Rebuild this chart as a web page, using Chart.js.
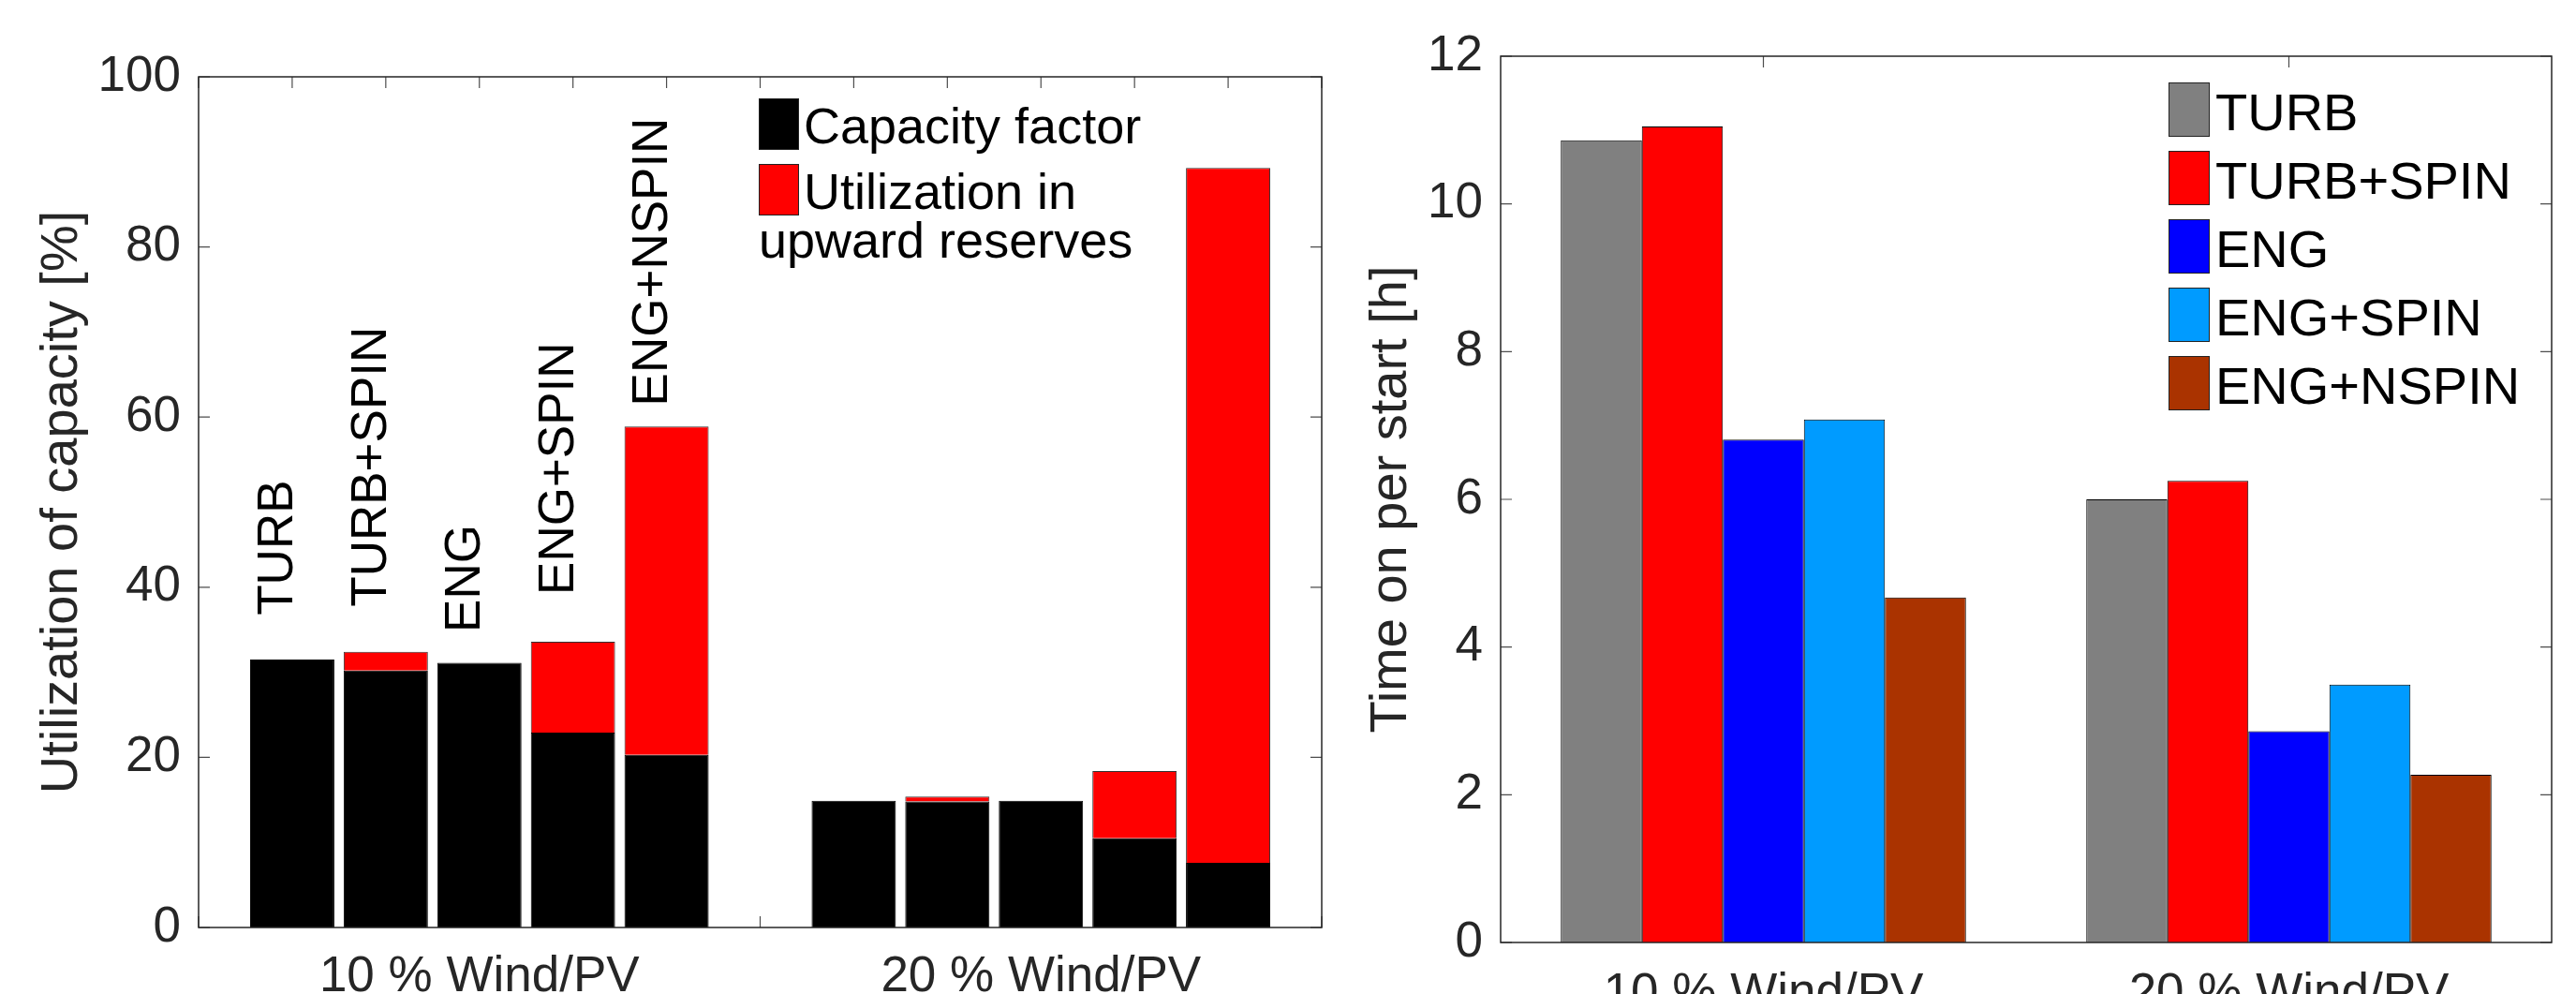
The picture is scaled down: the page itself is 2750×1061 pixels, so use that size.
<!DOCTYPE html>
<html>
<head>
<meta charset="utf-8">
<script src="https://cdn.jsdelivr.net/npm/chart.js@4.4.0/dist/chart.umd.min.js"></script>
<style>
  html, body { margin: 0; padding: 0; background: #fff; overflow: hidden; }
  canvas { position: absolute; top: 0; }
  #left { left: 0; width: 1450px; height: 1061px; }
  #right { left: 1450px; width: 1300px; height: 1061px; }
</style>
</head>
<body>
<canvas id="left" width="1450" height="1061"></canvas>
<canvas id="right" width="1300" height="1061"></canvas>
<script>
// technologies and scenarios
const techs = ['TURB', 'TURB+SPIN', 'ENG', 'ENG+SPIN', 'ENG+NSPIN'];
const scenarios = ['10 % Wind/PV', '20 % Wind/PV'];

// left panel: utilization of capacity [%]
const capFactor10 = [31.5, 30.2, 31.1, 22.9, 20.3];
const capFactor20 = [14.9, 14.8, 14.9, 10.5, 7.6];
const reserveUse10 = [0, 2.2, 0, 10.7, 38.6];
const reserveUse20 = [0, 0.6, 0, 7.9, 81.7];
// where the rotated technology names start (in % units)
const techLabelAt = [36.7, 37.7, 34.7, 39.1, 61.3];
const utilTicks = [0, 20, 40, 60, 80, 100];

// right panel: time on per start [h]
const timeOn10 = [10.86, 11.05, 6.81, 7.08, 4.67];
const timeOn20 = [6.00, 6.25, 2.86, 3.49, 2.27];
const timeTicks = [0, 2, 4, 6, 8, 10, 12];

const techColors = ['#808080', '#ff0000', '#0000ff', '#009bff', '#aa3300'];
const FONT = '"Liberation Sans", Arial, Helvetica, sans-serif';
const AXIS = '#262626';
const TICK = 12;

Chart.defaults.font.family = FONT;
Chart.defaults.color = AXIS;

// bar x positions: 1..5 and 7..11
const slot = (g, i) => g * (techs.length + 1) + i + 1;
const toPoints = (vals, g) => vals.map((v, i) => ({ x: slot(g, i), y: v }));

// matlab-like box with inward ticks on all four sides
const boxAxes = {
  id: 'boxAxes',
  beforeDatasetsDraw(chart) {
    const { ctx, chartArea: a, scales: { x, y } } = chart;
    ctx.save();
    ctx.strokeStyle = '#4d4d4d';
    ctx.lineWidth = 1.2;
    ctx.beginPath();
    y.ticks.forEach(t => {
      const py = y.getPixelForValue(t.value);
      ctx.moveTo(a.left, py); ctx.lineTo(a.left + TICK, py);
      ctx.moveTo(a.right, py); ctx.lineTo(a.right - TICK, py);
    });
    x.ticks.forEach((t, i) => {
      const px = x.getPixelForTick(i);
      ctx.moveTo(px, a.top); ctx.lineTo(px, a.top + TICK);
      ctx.moveTo(px, a.bottom); ctx.lineTo(px, a.bottom - TICK);
    });
    ctx.stroke();
    ctx.restore();
  },
  afterDatasetsDraw(chart) {
    const { ctx, chartArea: a } = chart;
    ctx.save();
    ctx.strokeStyle = AXIS;
    ctx.lineWidth = 1.5;
    ctx.strokeRect(a.left, a.top, a.width, a.height);
    ctx.restore();
  }
};

// legend drawn inside the axes, top right
const boxLegend = {
  id: 'boxLegend',
  afterDraw(chart, args, o) {
    const { ctx, chartArea: a } = chart;
    const x0 = a.right - o.fromRight;
    ctx.save();
    ctx.font = o.size + 'px ' + FONT;
    ctx.fillStyle = '#000';
    ctx.textBaseline = 'alphabetic';
    ctx.textAlign = 'left';
    let top = a.top + o.fromTop;
    chart.data.datasets.forEach(ds => {
      ctx.fillStyle = ds.backgroundColor;
      ctx.fillRect(x0, top, o.boxW, o.boxH);
      ctx.strokeStyle = '#222';
      ctx.lineWidth = 1;
      ctx.strokeRect(x0 + 0.5, top + 0.5, o.boxW - 1, o.boxH - 1);
      ctx.fillStyle = '#000';
      const lines = ds.label.split('\n');
      lines.forEach((line, k) => {
        const tx = k === 0 ? x0 + o.boxW + o.gap : x0;
        ctx.fillText(line, tx, top + o.baseline + k * o.lineStep);
      });
      top += o.rowStep + (lines.length - 1) * o.lineStep;
    });
    ctx.restore();
  }
};

// rotated technology names above the first group of bars
const techNames = {
  id: 'techNames',
  afterDatasetsDraw(chart, args, o) {
    const { ctx, scales: { x, y } } = chart;
    ctx.save();
    ctx.font = o.size + 'px ' + FONT;
    ctx.fillStyle = '#000';
    ctx.textAlign = 'left';
    ctx.textBaseline = 'alphabetic';
    techs.forEach((name, i) => {
      ctx.save();
      ctx.translate(x.getPixelForValue(slot(0, i)), y.getPixelForValue(techLabelAt[i]));
      ctx.rotate(-Math.PI / 2);
      ctx.fillText(name, 0, 0);
      ctx.restore();
    });
    ctx.restore();
  }
};

const tickFont = { size: 53 };
const titleFont = { size: 56, lineHeight: 1.2 };

new Chart(document.getElementById('left'), {
  type: 'bar',
  data: {
    datasets: [
      { label: 'Capacity factor', data: toPoints(capFactor10, 0).concat(toPoints(capFactor20, 1)),
        backgroundColor: '#000000', borderColor: '#000000', borderWidth: 1 },
      { label: 'Utilization in\nupward reserves', data: toPoints(reserveUse10, 0).concat(toPoints(reserveUse20, 1)),
        backgroundColor: '#ff0000', borderColor: '#333333', borderWidth: 1 }
    ]
  },
  options: {
    responsive: false,
    animation: false,
    devicePixelRatio: 1,
    layout: { padding: { left: 0, top: 82, right: 39, bottom: 0 } },
    datasets: { bar: { barPercentage: 0.9, categoryPercentage: 1 } },
    scales: {
      x: {
        type: 'linear', stacked: true, offset: false, min: 0, max: 12,
        grid: { display: false, drawTicks: false }, border: { display: false },
        ticks: {
          stepSize: 1, autoSkip: false, maxRotation: 0, padding: 22, font: tickFont, color: AXIS,
          callback: v => {
            const g = (v - 3) / (techs.length + 1);
            return Number.isInteger(g) && scenarios[g] ? scenarios[g] : '';
          }
        },
        afterFit: s => { s.height = 71; }
      },
      y: {
        stacked: true, min: 0, max: 100,
        grid: { display: false, drawTicks: false }, border: { display: false },
        afterBuildTicks: s => { s.ticks = utilTicks.map(v => ({ value: v })); },
        ticks: { padding: 19, font: tickFont, color: AXIS },
        title: { display: true, text: 'Utilization of capacity [%]', font: titleFont, color: AXIS, padding: { top: 33, bottom: 0 } },
        afterFit: s => { s.width = 212; }
      }
    },
    plugins: {
      legend: { display: false },
      tooltip: { enabled: false },
      boxLegend: { fromRight: 601, fromTop: 23, boxW: 43, boxH: 55, gap: 5, baseline: 48, rowStep: 70, lineStep: 52, size: 54 },
      techNames: { size: 53 }
    }
  },
  plugins: [boxAxes, boxLegend, techNames]
});

new Chart(document.getElementById('right'), {
  type: 'bar',
  data: {
    labels: scenarios,
    datasets: techs.map((name, i) => ({
      label: name,
      data: [timeOn10[i], timeOn20[i]],
      backgroundColor: techColors[i],
      borderColor: '#000000',
      borderWidth: 1
    }))
  },
  options: {
    responsive: false,
    animation: false,
    devicePixelRatio: 1,
    layout: { padding: { left: 0, top: 60, right: 26, bottom: 0 } },
    datasets: { bar: { barPercentage: 1, categoryPercentage: 0.771 } },
    scales: {
      x: {
        grid: { display: false, drawTicks: false }, border: { display: false },
        ticks: { padding: 24, font: tickFont, color: AXIS, maxRotation: 0 },
        afterFit: s => { s.height = 55; }
      },
      y: {
        min: 0, max: 12,
        grid: { display: false, drawTicks: false }, border: { display: false },
        afterBuildTicks: s => { s.ticks = timeTicks.map(v => ({ value: v })); },
        ticks: { padding: 19, font: tickFont, color: AXIS },
        title: { display: true, text: 'Time on per start [h]', font: titleFont, color: AXIS, padding: { top: 2, bottom: 0 } },
        afterFit: s => { s.width = 152; }
      }
    },
    plugins: {
      legend: { display: false },
      tooltip: { enabled: false },
      boxLegend: { fromRight: 409, fromTop: 28, boxW: 44, boxH: 58, gap: 6, baseline: 51, rowStep: 73, lineStep: 52, size: 56 }
    }
  },
  plugins: [boxAxes, boxLegend]
});
</script>
</body>
</html>
